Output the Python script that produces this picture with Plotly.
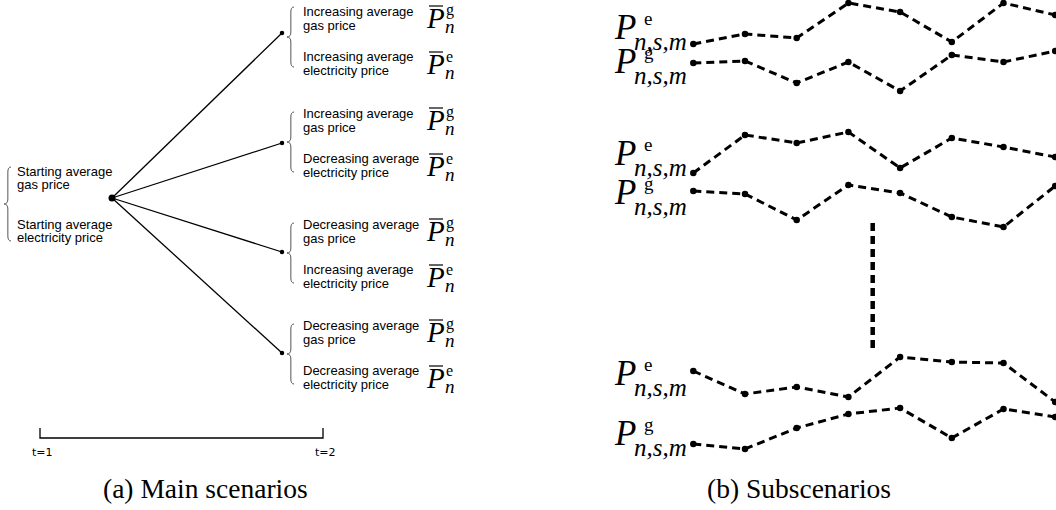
import plotly.graph_objects as go

# ---------------- data ----------------
W, H = 1056, 510

# (b) sub-scenario paths: stage index and sketch level of each price point
stages = [1, 2, 3, 4, 5, 6, 7, 8]
pe_path_1 = [44, 34, 38, 3, 12, 42, 3, 15]
pg_path_1 = [63, 61, 83, 62, 91, 55, 62, 51]
pe_path_2 = [173, 135, 143, 132, 168, 138, 147, 157]
pg_path_2 = [191, 194, 220, 185, 193, 217, 227, 186]
pe_path_3 = [371, 394, 387, 397, 357, 362, 363, 402]
pg_path_3 = [444, 449, 428, 414, 408, 438, 409, 417]
gap_stage = [4.47, 4.47]
gap_level = [223, 348]

# (a) main-scenario tree
tree_root = (112, 198)
tree_leaf_x = 282
tree_leaf_y = [33, 143, 252, 353]
gas_trend = ["Increasing", "Increasing", "Decreasing", "Decreasing"]
elec_trend = ["Increasing", "Decreasing", "Increasing", "Decreasing"]
start_text = ["Starting average", "gas price", "Starting average", "electricity price"]
time_labels = ["t=1", "t=2"]
time_x = [40, 323]
captions = ["(a) Main scenarios", "(b) Subscenarios"]

# ---------------- figure ----------------
fig = go.Figure()
SANS = "Liberation Sans"
SERIF = "Liberation Serif"

# tree branches
for ly in tree_leaf_y:
    fig.add_trace(go.Scatter(x=[tree_root[0], tree_leaf_x], y=[tree_root[1], ly],
                             mode="lines", line=dict(color="black", width=1.3),
                             hoverinfo="skip"))
fig.add_trace(go.Scatter(x=[tree_root[0]], y=[tree_root[1]], mode="markers",
                         marker=dict(size=7, color="black"), hoverinfo="skip"))
fig.add_trace(go.Scatter(x=[tree_leaf_x] * len(tree_leaf_y), y=tree_leaf_y, mode="markers",
                         marker=dict(size=4.5, color="black"), hoverinfo="skip"))

# timeline
fig.add_trace(go.Scatter(x=[time_x[0], time_x[0], time_x[1], time_x[1]],
                         y=[428, 438, 438, 428], mode="lines",
                         line=dict(color="black", width=1.3), hoverinfo="skip"))

# sub-scenario paths
for path in [pe_path_1, pg_path_1, pe_path_2, pg_path_2, pe_path_3, pg_path_3]:
    fig.add_trace(go.Scatter(x=stages, y=path, xaxis="x2", mode="lines+markers",
                             line=dict(color="black", width=3, dash="8px,5px"),
                             marker=dict(size=6.5, color="black"), hoverinfo="skip"))
fig.add_trace(go.Scatter(x=gap_stage, y=gap_level, xaxis="x2", mode="lines",
                         line=dict(color="black", width=4.5, dash="8px,5px"),
                         hoverinfo="skip"))

ann = []
shapes = []


def text(x, y, s, size=13, family=SANS, xanchor="left", yanchor="middle", color="black"):
    ann.append(dict(x=x, y=y, xref="x", yref="y", text=s, showarrow=False,
                    xanchor=xanchor, yanchor=yanchor,
                    font=dict(size=size, family=family, color=color)))


def brace(x_tip, yc, h, w=7):
    xm = x_tip + w * 0.55
    xe = x_tip + w
    r = 5
    p = (f"M {xe},{yc-h} Q {xm},{yc-h} {xm},{yc-h+r} L {xm},{yc-r} "
         f"Q {xm},{yc} {x_tip},{yc} Q {xm},{yc} {xm},{yc+r} "
         f"L {xm},{yc+h-r} Q {xm},{yc+h} {xe},{yc+h}")
    shapes.append(dict(type="path", path=p, xref="x", yref="y",
                       line=dict(color="#555555", width=1)))


def pbar(x, yc, sup):
    # \bar P_n^{sup}
    text(x, yc, "<i>P</i>", size=29, family=SERIF)
    shapes.append(dict(type="line", x0=x + 5, x1=x + 19, y0=yc - 12, y1=yc - 12,
                       xref="x", yref="y", line=dict(color="black", width=1.2)))
    text(x + 20, yc - 8, sup, size=16, family=SERIF)
    text(x + 19, yc + 8, "<i>n</i>", size=19, family=SERIF)


def pnsm(x_right, ysub, sup):
    # P^{sup}_{n,s,m}
    text(x_right - 77, ysub - 13.5, "<i>P</i>", size=35, family=SERIF)
    text(x_right - 47, ysub - 23, sup, size=19, family=SERIF)
    text(x_right, ysub, "<i>n,s,m</i>", size=25, family=SERIF, xanchor="right")


# starting node text
brace(4, 204, 37)
for t, dy in zip(start_text, [-33, -20, 20, 33]):
    text(15, 204 + dy, t)

# main scenario groups
group_center = [40, 142, 253, 354]
for yc, g, e in zip(group_center, gas_trend, elec_trend):
    brace(287, yc - 3 if yc < 100 else yc, 30)
    lines = [f"{g} average", "gas price", f"{e} average", "electricity price"]
    for t, dy in zip(lines, [-29, -15, 16, 30]):
        text(301, yc + dy, t)
    pbar(424, yc - 22, "g")
    pbar(424, yc + 24, "e")

# timeline labels
for lab, tx in zip(time_labels, time_x):
    text(tx + 2, 452, lab, size=11, family="DejaVu Sans", xanchor="center")

# sub-scenario labels
sub_y = [41, 75, 167, 206, 387, 447]
for yy, s in zip(sub_y, ["e", "g", "e", "g", "e", "g"]):
    pnsm(689, yy, s)

# captions
text(205, 488, captions[0], size=27.5, family=SERIF, xanchor="center")
text(799, 488, captions[1], size=27.5, family=SERIF, xanchor="center")

s0 = 51.7
x2_lo = 1 - 693.3 / s0
x2_hi = 1 + (W - 693.3) / s0

fig.update_layout(
    width=W, height=H, margin=dict(l=0, r=0, t=0, b=0),
    paper_bgcolor="white", plot_bgcolor="white", showlegend=False,
    xaxis=dict(range=[0, W], visible=False, fixedrange=True),
    xaxis2=dict(range=[x2_lo, x2_hi], visible=False, overlaying="x", fixedrange=True),
    yaxis=dict(range=[H, 0], visible=False, fixedrange=True),
    annotations=ann, shapes=shapes,
)

fig.write_html("out.html", config={"displayModeBar": False},
               post_script="document.body.style.margin='0px';document.body.style.overflow='hidden';")
